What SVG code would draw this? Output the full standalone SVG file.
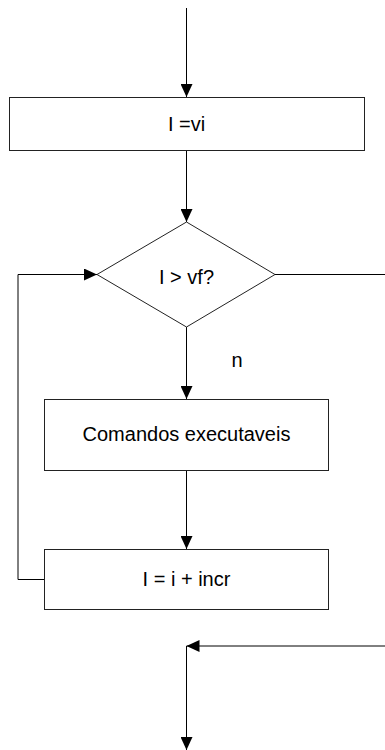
<svg xmlns="http://www.w3.org/2000/svg" width="385" height="750" viewBox="0 0 385 750">
  <style>
    .box { fill: #fff; stroke: #222; stroke-width: 1; }
    .wire { fill: none; stroke: #000; stroke-width: 1; }
    .lbl { font-family: "Liberation Sans", Arial, sans-serif; font-size: 20px; fill: #000; text-anchor: middle; }
  </style>
  <defs>
    <marker id="arrow" markerWidth="13" markerHeight="12" refX="13" refY="6" orient="auto" markerUnits="userSpaceOnUse">
      <path d="M0,0 L13,6 L0,12 Z" fill="#000"/>
    </marker>
  </defs>

  <!-- connectors -->
  <g id="connectors">
    <line class="wire" x1="186.5" y1="8" x2="186.5" y2="97" marker-end="url(#arrow)"/>
    <line class="wire" x1="186.5" y1="150" x2="186.5" y2="222" marker-end="url(#arrow)"/>
    <line class="wire" x1="186.5" y1="327" x2="186.5" y2="399" marker-end="url(#arrow)"/>
    <line class="wire" x1="186.5" y1="470" x2="186.5" y2="549" marker-end="url(#arrow)"/>
    <polyline class="wire" points="44,579.5 18,579.5 18,274.5 97,274.5" marker-end="url(#arrow)"/>
    <line class="wire" x1="275" y1="274.5" x2="385" y2="274.5"/>
    <line class="wire" x1="385" y1="646" x2="186.5" y2="646" marker-end="url(#arrow)"/>
    <line class="wire" x1="186.5" y1="646" x2="186.5" y2="750" marker-end="url(#arrow)"/>
    <text class="lbl" x="237" y="367">n</text>
  </g>

  <g id="init">
    <rect class="box" x="9.5" y="97.5" width="355" height="53"/>
    <text class="lbl" x="186.5" y="131">I =vi</text>
  </g>

  <g id="test">
    <polygon class="box" points="186.5,222 275,274.5 186.5,327 97,274.5"/>
    <text class="lbl" x="186.5" y="284">I &gt; vf?</text>
  </g>

  <g id="body">
    <rect class="box" x="44.5" y="399.5" width="284" height="71"/>
    <text class="lbl" x="186.5" y="441">Comandos executaveis</text>
  </g>

  <g id="step">
    <rect class="box" x="44.5" y="549.5" width="284" height="60"/>
    <text class="lbl" x="186.5" y="586">I = i + incr</text>
  </g>
</svg>
